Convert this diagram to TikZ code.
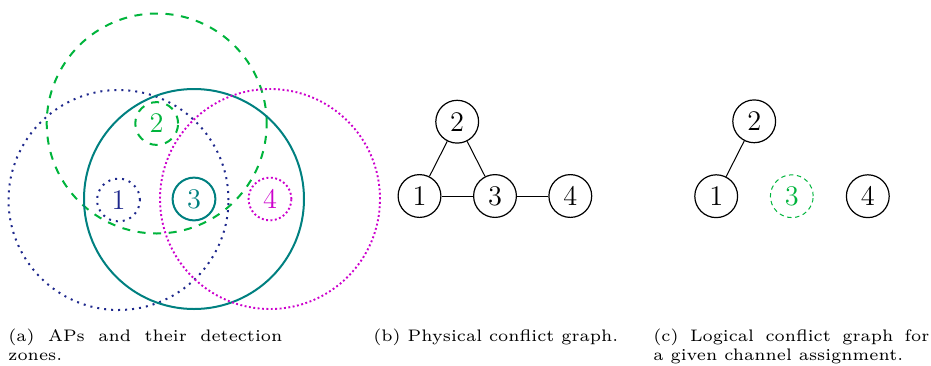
\documentclass[tikz,border=0pt]{standalone}
\usepackage{graphicx}
\definecolor{apblue}{RGB}{30,40,140}
\definecolor{apgreen}{RGB}{0,180,60}
\definecolor{apteal}{RGB}{0,128,128}
\definecolor{apmag}{RGB}{204,0,204}
\font\capfnt="[lmroman6-regular.otf]" at 8.35pt
\newcommand\mycapfont{\capfnt\baselineskip=9.7pt\hyphenpenalty=10000\exhyphenpenalty=10000\tolerance=9999\relax}
\begin{document}
\begin{tikzpicture}[x=0.5pt,y=-0.5pt,
  dig/.style={circle,minimum size=21.4pt,inner sep=0pt,font=\fontsize{14.2pt}{17pt}\selectfont},
  zblue/.style={draw=apblue,line width=1pt,dash pattern=on 1pt off 2.5pt},
  zgreen/.style={draw=apgreen,line width=1pt,dash pattern=on 4pt off 3.8pt},
  zteal/.style={draw=apteal,line width=1pt},
  zmag/.style={draw=apmag,line width=0.95pt,dash pattern=on 0.95pt off 1.25pt},
  gnode/.style={dig,draw,line width=0.6pt},
  gedge/.style={line width=0.5pt},
  capbox/.style={anchor=base west,inner sep=0pt,font=\mycapfont}]
\useasboundingbox (0,0) rectangle (931,365);
% panel (a)
\node[dig,zblue,text=apblue] (a1) at (118.5,200) {1};
\node[dig,zgreen,text=apgreen] (a2) at (156.7,123.5) {2};
\node[dig,zteal,text=apteal] (a3) at (194,199) {3};
\node[dig,zmag,text=apmag] (a4) at (270,199) {4};
\draw[zblue] (a1) circle[radius=55pt];
\draw[zgreen] (a2) circle[radius=55pt];
\draw[zteal] (a3) circle[radius=55pt];
\draw[zmag] (a4) circle[radius=55pt];
% panel (b)
\node[gnode] (b1) at (419.5,196) {1};
\node[gnode] (b2) at (457.2,121.7) {2};
\node[gnode] (b3) at (495,196) {3};
\node[gnode] (b4) at (570.3,196) {4};
\draw[gedge] (b1) -- (b2);
\draw[gedge] (b2) -- (b3);
\draw[gedge] (b1) -- (b3);
\draw[gedge] (b3) -- (b4);
% panel (c)
\node[gnode] (c1) at (716.2,196.2) {1};
\node[gnode] (c2) at (754.2,121.3) {2};
\node[dig,draw=apgreen,line width=0.5pt,dash pattern=on 2.2pt off 1.8pt,text=apgreen] (c3) at (791.8,196.2) {3};
\node[gnode] (c4) at (867.8,196.2) {4};
\draw[gedge] (c1) -- (c2);
% captions
\node[capbox] (capa) at (8,341) {\parbox[t]{137pt}{\mycapfont (a) APs and their detection\linebreak zones.}};
\node[capbox] (capb) at (373,341) {\mycapfont (b) Physical conflict graph.};
\node[capbox] (capc) at (653,341) {\parbox[t]{138pt}{\mycapfont (c) Logical conflict graph for\linebreak a given channel assignment.}};
\end{tikzpicture}
\end{document}
